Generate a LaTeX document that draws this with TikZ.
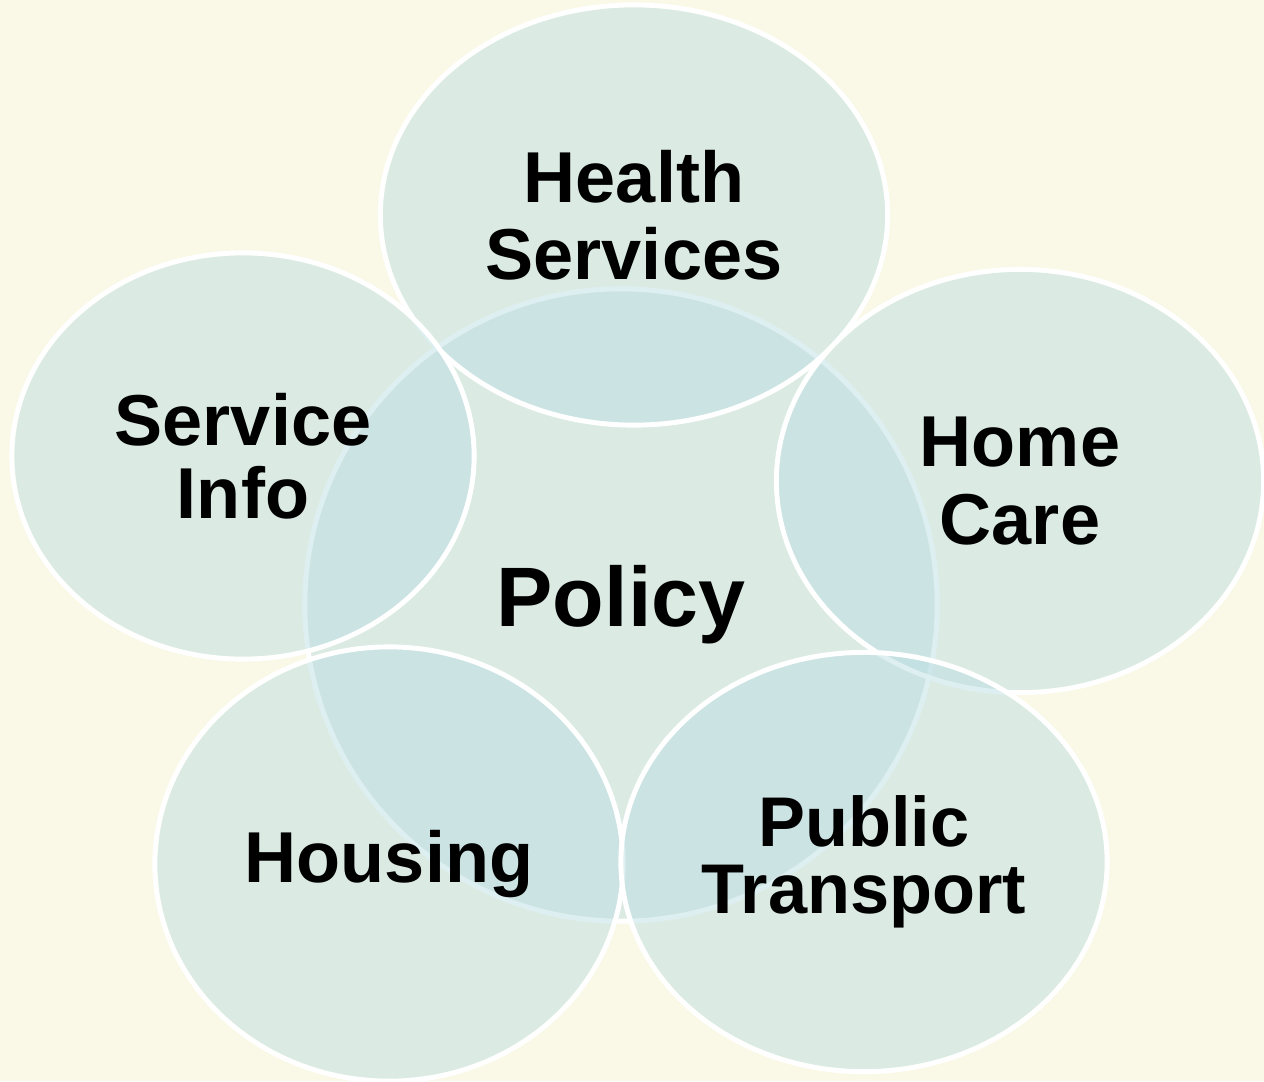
\documentclass[tikz,border=0pt]{standalone}
\usepackage{fontspec}
\setmainfont{Liberation Sans}
\usetikzlibrary{shapes.geometric}
\definecolor{cream}{RGB}{250,249,231}
\definecolor{paleteal}{RGB}{186,221,226}

\begin{document}
\begin{tikzpicture}[x=0.01cm, y=-0.01cm,
	bubble/.style={ellipse, fill=paleteal, fill opacity=0.47, text opacity=1, draw=white, line width=1.4pt, inner sep=0pt, align=center, font=\bfseries\fontsize{20.5}{22}\selectfont},
	hub/.style={bubble, circle, minimum size=6.32cm, font=\bfseries\fontsize{24}{26}\selectfont}]
\fill[cream] (0,0) rectangle (1264,1081);
\useasboundingbox (0,0) rectangle (1264,1081);

\node[hub] (policy) at (621,605) {Policy};

\node[bubble, minimum width=5.07cm, minimum height=4.2cm] (health) at (634,215) {Health\\Services};
\node[bubble, minimum width=4.62cm, minimum height=4.06cm, font=\bfseries\fontsize{20.5}{20.8}\selectfont] (info) at (243,456) {Service\\Info};
\node[bubble, minimum width=4.87cm, minimum height=4.23cm] (home) at (1020,481) {Home\\Care};
\node[bubble, minimum width=4.68cm, minimum height=4.34cm] (housing) at (389,864) {Housing};
\node[bubble, minimum width=4.86cm, minimum height=4.19cm, font=\bfseries\fontsize{20}{19}\selectfont] (transport) at (864,862) {Public\\Transport};

\end{tikzpicture}
\end{document}
